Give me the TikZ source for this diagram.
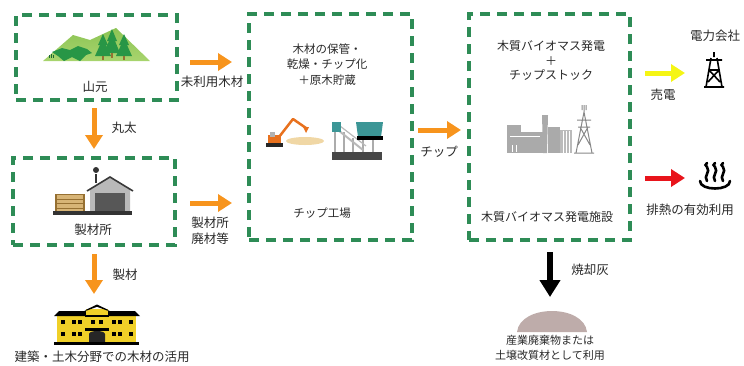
\documentclass[tikz,border=0pt]{standalone}
\usepackage{fontspec}
\setmainfont{Noto Sans CJK JP}
\usepackage{xcolor}
\usetikzlibrary{arrows.meta}
\definecolor{boxgreen}{RGB}{46,140,86}
\definecolor{arrorange}{RGB}{247,148,29}
\definecolor{arryellow}{RGB}{245,245,20}
\definecolor{arrred}{RGB}{232,20,27}
\definecolor{txtgray}{RGB}{40,40,40}
\definecolor{mtgreen}{RGB}{140,196,84}
\definecolor{mtlight}{RGB}{168,212,110}
\definecolor{treegreen}{RGB}{40,150,70}
\definecolor{woodtan}{RGB}{215,180,118}
\definecolor{woodbrown}{RGB}{150,112,50}
\definecolor{schoolyellow}{RGB}{240,208,40}
\definecolor{exorange}{RGB}{232,113,30}
\definecolor{chiptan}{RGB}{240,215,165}
\definecolor{chipteal}{RGB}{60,150,150}
\definecolor{plantgray}{RGB}{170,170,170}
\definecolor{moundc}{RGB}{190,172,170}

\begin{document}
\begin{tikzpicture}[x=1pt,y=-1pt,
  dbox/.style={draw=boxgreen, line width=3.5pt, dash pattern=on 10pt off 7pt, inner sep=0pt},
  lbl/.style={font=\fontsize{12.5}{15.5}\selectfont, text=txtgray, inner sep=0pt, align=center},
  slbl/.style={font=\fontsize{11.5}{15.5}\selectfont, text=txtgray, inner sep=0pt, align=center},
  flow/.style={line width=5pt, -{Triangle[length=14pt,width=17pt]}}]
  \useasboundingbox (0,0) rectangle (744,365);

  % dashed boxes
  \node[dbox, minimum width=161pt, minimum height=85pt] (yama) at (96.5,57.5) {};
  \node[dbox, minimum width=162pt, minimum height=87pt] (seizai) at (94,201.5) {};
  \node[dbox, minimum width=163pt, minimum height=226pt] (chip) at (330.5,127) {};
  \node[dbox, minimum width=161pt, minimum height=226pt] (hatsuden) at (549.5,127) {};

  % mountain with trees
  \shade[top color=mtgreen, bottom color=mtlight] (43,61) -- (73,35) -- (90,40) -- (116,28) -- (150,61) -- cycle;
  \fill[treegreen] (52,52) -- (62,48) -- (70,50) -- (78,46) -- (87,49) -- (92,53) -- (86,55) -- (80,61) -- (72,57) -- (64,61) -- (58,56) -- cycle;
  \draw[treegreen!70!black, line width=0.8pt] (49,55) -- (49,58) (51,54) -- (51,58) (53,55) -- (53,58);
  \fill[treegreen] (103,34) -- (98,45) -- (100,45) -- (95,56) -- (111,56) -- (106,45) -- (108,45) -- cycle;
  \fill[treegreen] (112,29) -- (107,41) -- (109,41) -- (104,53) -- (120,53) -- (115,41) -- (117,41) -- cycle;
  \fill[treegreen] (124,34) -- (119,45) -- (121,45) -- (116,56) -- (132,56) -- (127,45) -- (129,45) -- cycle;
  \fill[woodbrown] (102.2,56) rectangle (103.8,60);
  \fill[woodbrown] (111.2,53) rectangle (112.8,58);
  \fill[woodbrown] (123.2,56) rectangle (124.8,60);

  % sawmill
  \fill[woodtan] (55,194) rectangle (85,212);
  \draw[woodbrown, line width=0.8pt] (55,194) -- (85,194) (55,199) -- (85,199) (55,203.5) -- (85,203.5) (55,208) -- (85,208);
  \draw[woodbrown, line width=1.2pt] (56,194) -- (56,212) (84,194) -- (84,212);
  \fill[gray!55] (90,189) -- (110,177.5) -- (130,189) -- (130,212) -- (90,212) -- cycle;
  \draw[gray!45!black, line width=1.6pt] (87,191) -- (110,177) -- (133,191);
  \fill[gray!35!black!80] (95,193) rectangle (125,212);
  \fill[gray!40!black] (95.2,174) rectangle (97,183);
  \fill[gray!40!black] (96,170) circle (3pt);
  \fill[gray!40!black] (53,211) rectangle (132,215);

  % school building
  \fill[schoolyellow] (57,314) rectangle (136,343);
  \fill[black] (54,316) -- (59,311) -- (135,311) -- (140,316) -- cycle;
  \fill[schoolyellow] (86,309) rectangle (108,343);
  \fill[black] (84.5,310.5) -- (97,304.5) -- (109.5,310.5) -- (107,310.5) -- (97,306.8) -- (87,310.5) -- cycle;
  \fill[black] (85,315) rectangle (109,316.5);
  \fill[black] (61,320) rectangle (65,324);
  \fill[black] (72,320) rectangle (76,324);
  \fill[black] (78,320) rectangle (82,324);
  \fill[black] (91,320) rectangle (95,324);
  \fill[black] (99,320) rectangle (103,324);
  \fill[black] (112,320) rectangle (116,324);
  \fill[black] (118,320) rectangle (122,324);
  \fill[black] (129,320) rectangle (133,324);
  \fill[black] (61,332) rectangle (65,336);
  \fill[black] (72,332) rectangle (76,336);
  \fill[black] (78,332) rectangle (82,336);
  \fill[black] (112,332) rectangle (116,336);
  \fill[black] (118,332) rectangle (122,336);
  \fill[black] (129,332) rectangle (133,336);
  \fill[black] (85,328) rectangle (109,330.5);
  \fill[black!85] (89,343) -- (89,334) arc (180:0:8pt and 3pt) -- (105,343) -- cycle;
  \fill[black] (54,342) rectangle (139,344.5);

  % excavator and chips
  \fill[chiptan] (305,141) ellipse (19pt and 4pt);
  \fill[gray!30!black] (266,143) rectangle (283,147);
  \fill[exorange] (268,135) rectangle (281,143);
  \fill[gray!60] (270,132) rectangle (275,137);
  \draw[exorange, line width=2.5pt, line join=round] (279,137) -- (293,119) -- (306,128);
  \fill[exorange] (303,127) -- (309,127) -- (306,133) -- cycle;

  % chipper
  \fill[gray!40!black!90] (332,152) rectangle (382,160);
  \draw[gray!65, line width=1.5pt] (335,130) -- (335,152) (344,132) -- (344,152) (353,138) -- (353,152) (363,138) -- (363,152) (373,138) -- (373,152);
  \draw[gray!55, line width=2pt] (338,130) -- (363,150);
  \draw[gray!55, line width=1.2pt] (340,126) -- (366,146);
  \fill[chipteal] (332,122) rectangle (341,132);
  \fill[chipteal] (356,122) -- (383,122) -- (381,137) -- (358,137) -- cycle;
  \fill[black] (357,136) rectangle (383,139.5);

  % power plant
  \fill[plantgray] (507,125) rectangle (521,153);
  \fill[plantgray] (521,132) rectangle (543,153);
  \fill[plantgray] (542,115) -- (548,115) -- (547,153) -- (543,153) -- cycle;
  \fill[plantgray] (548,127) rectangle (560,153);
  \fill[plantgray!80] (560,130) rectangle (572,153);
  \draw[white, line width=0.6pt] (563,131) -- (563,153) (566,131) -- (566,153) (569,131) -- (569,153);
  \draw[white, line width=1pt] (510,136) -- (540,136) (512,145) -- (512,152) (516,145) -- (516,152);
  \draw[plantgray!80!black, line width=1pt] (584,105) -- (584,112) (582,105) -- (582,110) (586,105) -- (586,110)
    (584,112) -- (576,153) (584,112) -- (592,153) (577,120) -- (591,120) (578,127) -- (590,127)
    (580,127) -- (590,145) (588,127) -- (578,145) (574,153) -- (594,153);

  % transmission tower
  \draw[black, line width=1.6pt, line join=round] (714,52) -- (714,57) (706,60) -- (722,60)
    (711,58) -- (706,87) (717,58) -- (722,87) (709,70) -- (719,70)
    (709,70) -- (720,82) (719,70) -- (708,82) (704,87) -- (724,87);

  % hot spring
  \draw[black, line width=2.6pt, line cap=round] (700,181) .. controls (700,191) and (730,191) .. (730,181);
  \draw[black, line width=2.6pt, line cap=round] (707,181) .. controls (703,176) and (711,172) .. (707,167) .. controls (705,165) .. (707,163);
  \draw[black, line width=2.6pt, line cap=round] (715,181) .. controls (711,176) and (719,172) .. (715,167) .. controls (713,165) .. (715,163);
  \draw[black, line width=2.6pt, line cap=round] (723,181) .. controls (719,176) and (727,172) .. (723,167) .. controls (721,165) .. (723,163);

  % ash mound
  \fill[moundc] (517,332) .. controls (520,304) and (584,304) .. (587,332) -- cycle;

  % arrow ends
  \coordinate (m1) at (190,62);   \coordinate (m2) at (232,62);
  \coordinate (d1) at (94,108);   \coordinate (d2) at (94,149);
  \coordinate (h1) at (190,203);  \coordinate (h2) at (232,203);
  \coordinate (s1) at (94,254);   \coordinate (s2) at (94,294);
  \coordinate (c1) at (418,130);  \coordinate (c2) at (461,130);
  \coordinate (e1) at (645,73);   \coordinate (e2) at (685,73);
  \coordinate (r1) at (645,178);  \coordinate (r2) at (685,178);
  \coordinate (b1) at (550,252);  \coordinate (b2) at (550,297);

  \draw[flow, draw=arrorange, fill=arrorange] (m1) -- (m2);
  \draw[flow, draw=arrorange, fill=arrorange] (d1) -- (d2);
  \draw[flow, draw=arrorange, fill=arrorange] (h1) -- (h2);
  \draw[flow, draw=arrorange, fill=arrorange] (s1) -- (s2);
  \draw[flow, draw=arrorange, fill=arrorange] (c1) -- (c2);
  \draw[flow, draw=arryellow, fill=arryellow] (e1) -- (e2);
  \draw[flow, draw=arrred, fill=arrred] (r1) -- (r2);
  \draw[black, line width=6.5pt, -{Triangle[length=17pt,width=20pt]}] (b1) -- (b2);

  % labels
  \node[lbl] (yamalbl) at (95,87) {山元};
  \node[lbl] (miriyo) at (212,82) {未利用木材};
  \node[lbl] (maruta) at (124,128) {丸太};
  \node[lbl] (seizailbl) at (93,230) {製材所};
  \node[lbl] (haizai) at (210,231) {製材所\\廃材等};
  \node[lbl] (seizaiout) at (125,275) {製材};
  \node[lbl] (kenchiku) at (102,357) {建築・土木分野での木材の活用};
  \node[slbl] (hokan) at (327,64.5) {木材の保管・\\乾燥・チップ化\\＋原木貯蔵};
  \node[slbl] (kojo) at (322,213) {チップ工場};
  \node[lbl] (chiplbl) at (439,152) {チップ};
  \node[lbl, font=\fontsize{12}{14.5}\selectfont] (biomass) at (551,60.5) {木質バイオマス発電\\＋\\チップストック};
  \node[lbl, font=\fontsize{12}{14.5}\selectfont] (shisetsu) at (547,217) {木質バイオマス発電施設};
  \node[lbl] (baiden) at (663,95) {売電};
  \node[lbl] (denryoku) at (715,36) {電力会社};
  \node[lbl] (hainetsu) at (690,210) {排熱の有効利用};
  \node[lbl] (shokyaku) at (590,270) {焼却灰};
  \node[lbl, font=\fontsize{11}{15}\selectfont] (sangyo) at (550,347.5) {産業廃棄物または\\土壌改質材として利用};
\end{tikzpicture}
\end{document}
